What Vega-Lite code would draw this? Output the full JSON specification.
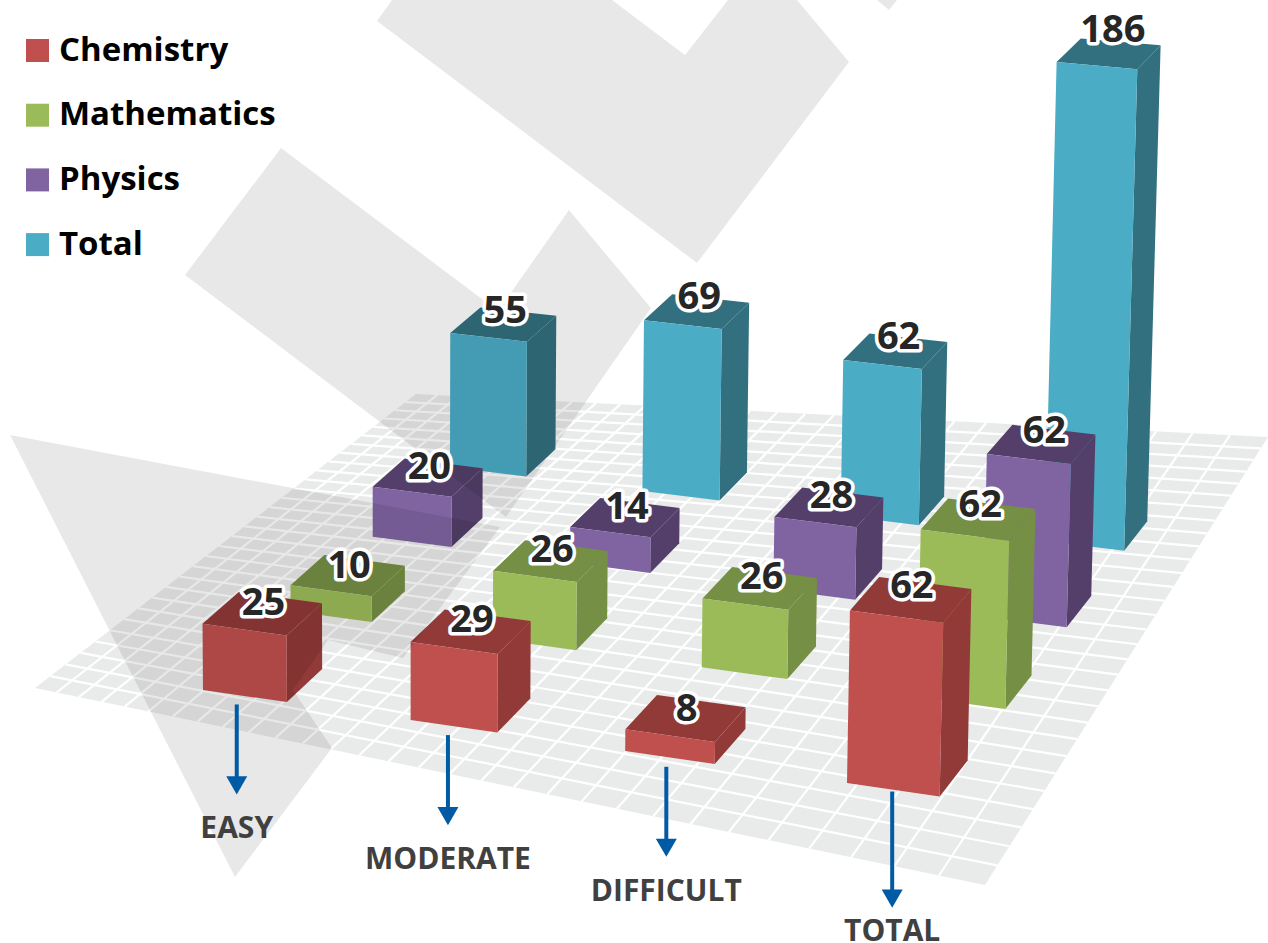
{
"$schema":"https://vega.github.io/schema/vega-lite/v6.json",
"width":1268,"height":943,"padding":0,"autosize":{"type":"none"},"background":"white",
"config":{"view":{"stroke":null},"font":"Open Sans"},
"datasets":{
"bars":[
{"difficulty":"EASY","subject":"Total","value":55},{"difficulty":"MODERATE","subject":"Total","value":69},{"difficulty":"DIFFICULT","subject":"Total","value":62},{"difficulty":"TOTAL","subject":"Total","value":186},
{"difficulty":"EASY","subject":"Physics","value":20},{"difficulty":"MODERATE","subject":"Physics","value":14},{"difficulty":"DIFFICULT","subject":"Physics","value":28},{"difficulty":"TOTAL","subject":"Physics","value":62},
{"difficulty":"EASY","subject":"Mathematics","value":10},{"difficulty":"MODERATE","subject":"Mathematics","value":26},{"difficulty":"DIFFICULT","subject":"Mathematics","value":26},{"difficulty":"TOTAL","subject":"Mathematics","value":62},
{"difficulty":"EASY","subject":"Chemistry","value":25},{"difficulty":"MODERATE","subject":"Chemistry","value":29},{"difficulty":"DIFFICULT","subject":"Chemistry","value":8},{"difficulty":"TOTAL","subject":"Chemistry","value":62}
],
"levels":[{"difficulty":"EASY"},{"difficulty":"MODERATE"},{"difficulty":"DIFFICULT"},{"difficulty":"TOTAL"}],
"floorCorners":[{"fu":0,"fv":0,"k":0},{"fu":1,"fv":0,"k":1},{"fu":1,"fv":1,"k":2},{"fu":0,"fv":1,"k":3}],
"gridLines":[
{"dir":"u","i":1},{"dir":"u","i":2},{"dir":"u","i":3},{"dir":"u","i":4},{"dir":"u","i":5},{"dir":"u","i":6},{"dir":"u","i":7},{"dir":"u","i":8},{"dir":"u","i":9},{"dir":"u","i":10},{"dir":"u","i":11},{"dir":"u","i":12},{"dir":"u","i":13},{"dir":"u","i":14},{"dir":"u","i":15},{"dir":"u","i":16},{"dir":"u","i":17},{"dir":"u","i":18},{"dir":"u","i":19},{"dir":"u","i":20},{"dir":"u","i":21},{"dir":"u","i":22},{"dir":"u","i":23},{"dir":"u","i":24},{"dir":"u","i":25},{"dir":"u","i":26},{"dir":"u","i":27},{"dir":"u","i":28},{"dir":"u","i":29},
{"dir":"v","i":1},{"dir":"v","i":2},{"dir":"v","i":3},{"dir":"v","i":4},{"dir":"v","i":5},{"dir":"v","i":6},{"dir":"v","i":7},{"dir":"v","i":8},{"dir":"v","i":9},{"dir":"v","i":10},{"dir":"v","i":11},{"dir":"v","i":12},{"dir":"v","i":13},{"dir":"v","i":14},{"dir":"v","i":15},{"dir":"v","i":16},{"dir":"v","i":17},{"dir":"v","i":18},{"dir":"v","i":19},{"dir":"v","i":20},{"dir":"v","i":21},{"dir":"v","i":22},{"dir":"v","i":23},{"dir":"v","i":24},{"dir":"v","i":25},{"dir":"v","i":26},{"dir":"v","i":27},{"dir":"v","i":28},{"dir":"v","i":29}
],
"watermark":[
{"s":"a","k":0,"px":377,"py":21},{"s":"a","k":1,"px":392,"py":0},{"s":"a","k":2,"px":612,"py":0},{"s":"a","k":3,"px":685,"py":55},{"s":"a","k":4,"px":728,"py":0},{"s":"a","k":5,"px":797,"py":0},{"s":"a","k":6,"px":849,"py":62},{"s":"a","k":7,"px":697,"py":263},
{"s":"t","k":0,"px":877,"py":0},{"s":"t","k":1,"px":889,"py":10},{"s":"t","k":2,"px":897,"py":0},
{"s":"b","k":0,"px":281,"py":148},{"s":"b","k":1,"px":498,"py":311},{"s":"b","k":2,"px":569,"py":210},{"s":"b","k":3,"px":651,"py":308},{"s":"b","k":4,"px":506,"py":517},{"s":"b","k":5,"px":185,"py":275},
{"s":"c","k":0,"px":10,"py":435},{"s":"c","k":1,"px":500,"py":527},{"s":"c","k":2,"px":403,"py":658},{"s":"c","k":3,"px":328,"py":640},{"s":"c","k":4,"px":293,"py":690},{"s":"c","k":5,"px":332,"py":748},{"s":"c","k":6,"px":235,"py":877}
]
},
"encoding":{},
"layer":[
{"data":{"name":"floorCorners"},
 "transform":[
  {"calculate":"1-0.3224*datum.fu+0.2221*datum.fv","as":"D"},
  {"calculate":"(632.4*datum.fu+473.4*datum.fv+35)/datum.D","as":"X"},
  {"calculate":"(-88.3*datum.fu-206.5*datum.fv+688)/datum.D","as":"Y"}],
 "mark":{"type":"line","fill":"#e9ebea","stroke":null},
 "encoding":{"x":{"field":"X","type":"quantitative","axis":null,"scale":{"domain":[0,1268],"nice":false,"zero":false}},
  "y":{"field":"Y","type":"quantitative","axis":null,"scale":{"domain":[0,943],"reverse":true,"nice":false,"zero":false}},
  "order":{"field":"k"}}},
{"data":{"name":"gridLines"},
 "transform":[
  {"calculate":"datum.dir=='u'?datum.i/30:0","as":"u0"},{"calculate":"datum.dir=='u'?0:datum.i/30","as":"v0"},
  {"calculate":"datum.dir=='u'?datum.i/30:1","as":"u1"},{"calculate":"datum.dir=='u'?1:datum.i/30","as":"v1"},
  {"calculate":"1-0.3224*datum.u0+0.2221*datum.v0","as":"D0"},{"calculate":"1-0.3224*datum.u1+0.2221*datum.v1","as":"D1"},
  {"calculate":"(632.4*datum.u0+473.4*datum.v0+35)/datum.D0","as":"X"},{"calculate":"(-88.3*datum.u0-206.5*datum.v0+688)/datum.D0","as":"Y"},
  {"calculate":"(632.4*datum.u1+473.4*datum.v1+35)/datum.D1","as":"X2"},{"calculate":"(-88.3*datum.u1-206.5*datum.v1+688)/datum.D1","as":"Y2"}],
 "mark":{"type":"rule","color":"white","strokeWidth":2.2},
 "encoding":{"x":{"field":"X","type":"quantitative"},"y":{"field":"Y","type":"quantitative"},"x2":{"field":"X2"},"y2":{"field":"Y2"}}},
{"data":{"name":"bars"},
 "transform":[
  {"calculate":"indexof(['EASY','MODERATE','DIFFICULT','TOTAL'],datum.difficulty)/3","as":"u"},
  {"calculate":"indexof(['Chemistry','Mathematics','Physics','Total'],datum.subject)/3","as":"v"},
  {"calculate":"['side','top','front']","as":"face"},{"flatten":["face"]},
  {"calculate":"[0,1,2,3]","as":"corner"},{"flatten":["corner"]},
  {"calculate":"datum.face=='side'?1:((datum.corner==1||datum.corner==2)?1:0)","as":"cu"},
  {"calculate":"datum.face=='front'?0:(datum.face=='side'?((datum.corner==1||datum.corner==2)?1:0):(datum.corner>=2?1:0))","as":"cv"},
  {"calculate":"datum.face=='top'?1:(datum.corner>=2?1:0)","as":"cw"},
  {"calculate":"datum.u+0.136*(1-datum.v*(0.02+0.05*datum.u))*datum.cu","as":"pu"},{"calculate":"datum.v+0.135*datum.cv","as":"pv"},{"calculate":"datum.value*datum.cw","as":"pw"},
  {"calculate":"1-0.0484*datum.pu+0.09846*datum.pv-0.0001*datum.pw","as":"D"},
  {"calculate":"(603*datum.pu+291.3*datum.pv+203-0.04*datum.pw)/datum.D","as":"X"},
  {"calculate":"(55.1*datum.pu-177*datum.pv+690-2.71*datum.pw)/datum.D","as":"Y"},
  {"calculate":"datum.subject+(datum.face=='front'?'':' shade')","as":"shade"},
  {"calculate":"datum.difficulty+datum.subject+datum.face","as":"id"}],
 "mark":{"type":"line","strokeWidth":0},
 "encoding":{"x":{"field":"X","type":"quantitative"},"y":{"field":"Y","type":"quantitative"},
  "detail":{"field":"id"},"order":{"field":"corner"},
  "fill":{"field":"shade","type":"nominal","legend":null,"scale":{"domain":["Chemistry","Chemistry shade","Mathematics","Mathematics shade","Physics","Physics shade","Total","Total shade"],"range":["#bf504d","#913a38","#9bbb59","#758f45","#8064a2","#533f6a","#4bacc6","#32707f"]}}}},
{"data":{"name":"watermark"},
 "mark":{"type":"line","fill":"black","fillOpacity":0.09,"stroke":null},
 "encoding":{"x":{"field":"px","type":"quantitative"},"y":{"field":"py","type":"quantitative"},"detail":{"field":"s"},"order":{"field":"k"}}},
{"data":{"name":"levels"},
 "transform":[
  {"calculate":"indexof(['EASY','MODERATE','DIFFICULT','TOTAL'],datum.difficulty)/3","as":"u"},
  {"calculate":"datum.u*1.008+0.068","as":"au"},
  {"calculate":"1-0.0484*datum.au-0.00295","as":"D"},
  {"calculate":"(603*datum.au-8.74+203)/datum.D","as":"X"},
  {"calculate":"(55.1*datum.au+5.31+690)/datum.D","as":"Y0"},
  {"calculate":"datum.Y0+(datum.difficulty=='TOTAL'?-7:1)","as":"Y"},
  {"calculate":"datum.Y0+(datum.difficulty=='TOTAL'?100:82)","as":"Y2"}],
 "mark":{"type":"rule","color":"#005ba4","strokeWidth":4},
 "encoding":{"x":{"field":"X","type":"quantitative"},"y":{"field":"Y","type":"quantitative"},"y2":{"field":"Y2"}}},
{"data":{"name":"levels"},
 "transform":[
  {"calculate":"indexof(['EASY','MODERATE','DIFFICULT','TOTAL'],datum.difficulty)/3","as":"u"},
  {"calculate":"datum.u*1.008+0.068","as":"au"},
  {"calculate":"1-0.0484*datum.au-0.00295","as":"D"},
  {"calculate":"(603*datum.au-8.74+203)/datum.D","as":"X"},
  {"calculate":"(55.1*datum.au+5.31+690)/datum.D+(datum.difficulty=='TOTAL'?100:82)","as":"Y"}],
 "mark":{"type":"point","shape":"triangle-down","filled":true,"color":"#005ba4","size":441,"opacity":1},
 "encoding":{"x":{"field":"X","type":"quantitative"},"y":{"field":"Y","type":"quantitative"}}},
{"data":{"name":"levels"},
 "transform":[
  {"calculate":"indexof(['EASY','MODERATE','DIFFICULT','TOTAL'],datum.difficulty)/3","as":"u"},
  {"calculate":"datum.u*1.008+0.068","as":"au"},
  {"calculate":"1-0.0484*datum.au-0.00295","as":"D"},
  {"calculate":"(603*datum.au-8.74+203)/datum.D","as":"X"},
  {"calculate":"(55.1*datum.au+5.31+690)/datum.D+(datum.difficulty=='TOTAL'?133:126)","as":"Y"}],
 "mark":{"type":"text","fontSize":30,"fontWeight":700,"color":"#404040","align":"center","baseline":"middle"},
 "encoding":{"x":{"field":"X","type":"quantitative"},"y":{"field":"Y","type":"quantitative"},"text":{"field":"difficulty"}}},
{"data":{"name":"bars"},
 "transform":[
  {"calculate":"indexof(['EASY','MODERATE','DIFFICULT','TOTAL'],datum.difficulty)/3+0.068","as":"pu"},
  {"calculate":"indexof(['Chemistry','Mathematics','Physics','Total'],datum.subject)/3+0.0675","as":"pv"},
  {"calculate":"1-0.0484*datum.pu+0.09846*datum.pv-0.0001*datum.value","as":"D"},
  {"calculate":"(603*datum.pu+291.3*datum.pv+203-0.04*datum.value)/datum.D","as":"X"},
  {"calculate":"(55.1*datum.pu-177*datum.pv+690-2.71*datum.value)/datum.D-0.08*datum.value","as":"Y"}],
 "layer":[
  {"mark":{"type":"text","fontSize":38,"fontWeight":700,"color":"white","stroke":"white","strokeWidth":7,"strokeJoin":"round","align":"center","baseline":"middle","dy":-8,"dx":1},
   "encoding":{"x":{"field":"X","type":"quantitative"},"y":{"field":"Y","type":"quantitative"},"text":{"field":"value","type":"quantitative"}}},
  {"mark":{"type":"text","fontSize":38,"fontWeight":700,"color":"#262626","align":"center","baseline":"middle","dy":-8,"dx":1},
   "encoding":{"x":{"field":"X","type":"quantitative"},"y":{"field":"Y","type":"quantitative"},"text":{"field":"value","type":"quantitative"}}}
 ]},
{"data":{"name":"bars"},
 "mark":{"type":"square","size":0},
 "encoding":{"color":{"field":"subject","type":"nominal",
  "scale":{"domain":["Chemistry","Mathematics","Physics","Total"],"range":["#bf504d","#9bbb59","#8064a2","#4bacc6"]},
  "legend":{"title":null,"orient":"none","legendX":21,"legendY":34,"padding":0,"symbolType":"square","symbolSize":529,"symbolStrokeWidth":0,"symbolOpacity":1,"labelFont":"Open Sans","labelFontWeight":700,"labelFontSize":33,"labelColor":"black","labelOffset":5,"rowPadding":30.7,"labelLimit":400}}}}
]
}
